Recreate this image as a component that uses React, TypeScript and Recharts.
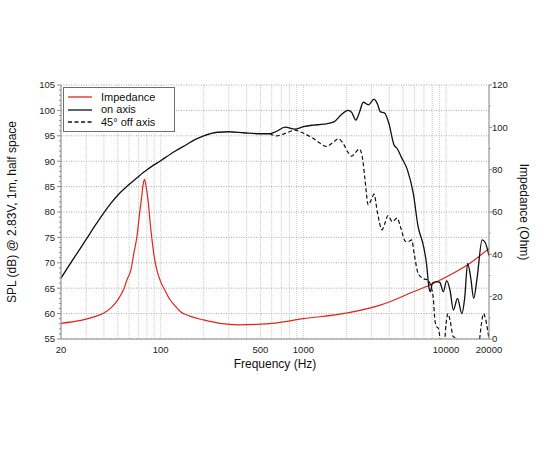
import { CartesianGrid, Label, Legend, Line, LineChart, XAxis, YAxis } from "recharts";

type Pt = { f: number; v: number };

const FONT = '"Liberation Sans", Arial, Helvetica, sans-serif';
const AXIS = "#8c8c8c";
const RED = "#e3241b";
const BLACK = "#111111";

// frequency (Hz) -> impedance (Ohm), right axis
const impedance: Pt[] = [
  [20, 7.4], [25, 8.3], [30, 9.4], [35, 10.7], [40, 12.3], [45, 14.8], [50, 18.5], [55, 23.5],
  [58, 28], [62, 33], [65, 41], [68, 48], [71, 59], [73.5, 67], [75.5, 73.5], [77, 75.4],
  [79, 72], [82, 64], [84, 56], [86.5, 48], [90, 39], [94, 32.5], [100, 27], [107, 23],
  [115, 19], [125, 16], [137, 13], [160, 10.8], [200, 9], [260, 7.4], [350, 6.7], [500, 7],
  [600, 7.4], [1000, 9.6], [2000, 12.2], [3500, 16.1], [5900, 22.3], [7700, 25.5],
  [10100, 29.4], [14700, 35.8], [20000, 42.8],
].map(([f, v]) => ({ f, v }));

// frequency (Hz) -> SPL (dB), on axis
const onAxis: Pt[] = [
  [20, 67], [25, 71.2], [30, 74.6], [35, 77.5], [40, 79.9], [45, 81.8], [50, 83.3], [60, 85.4],
  [70, 87], [80, 88.3], [100, 90.1], [125, 91.9], [150, 93.2], [175, 94.3], [200, 95], [250, 95.7],
  [300, 95.8], [380, 95.6], [500, 95.4], [580, 95.4], [640, 95.8], [745, 96.7], [870, 96.3],
  [1000, 96.8], [1170, 97.1], [1400, 97.3], [1650, 97.8], [1850, 99.2], [2060, 100],
  [2180, 99.6], [2330, 98.1], [2470, 99.6], [2630, 101.6], [2850, 101.1], [3130, 102.2],
  [3300, 101.3], [3470, 99.7], [3700, 99.5], [3970, 97.5], [4320, 93.2], [4540, 92.5],
  [4900, 90.6], [5360, 88.3], [5890, 83.7], [6370, 77.1], [6920, 73.5], [7290, 69.9],
  [7600, 65], [7750, 64.3], [8030, 66], [8590, 66.3], [9060, 66.1], [9560, 64.3],
  [10100, 66.5], [10660, 64.6], [11260, 60.7], [12030, 63], [12900, 60], [13500, 63],
  [14170, 69.9], [14900, 67], [15620, 63], [16500, 67], [17900, 74.5], [18800, 74],
  [20000, 71.4],
].map(([f, v]) => ({ f, v }));

// frequency (Hz) -> SPL (dB), 45 degrees off axis
const offAxis: Pt[] = [
  [580, 95.4], [650, 95.0], [700, 95.2], [780, 95.7], [870, 96.1], [1000, 95.5], [1170, 94.5],
  [1300, 93.6], [1450, 92.9], [1600, 93.6], [1760, 94.4], [1900, 93.5], [2050, 91.8],
  [2180, 91.0], [2300, 91.6], [2470, 92.4], [2600, 90.5], [2700, 86.5], [2850, 81.4],
  [3000, 82.5], [3130, 83.5], [3300, 80], [3560, 76.5], [3750, 78], [3910, 79.3], [4200, 78.1],
  [4540, 78.8], [4800, 77], [5200, 74.2], [5450, 74.2], [5740, 74.5], [6000, 71.5],
  [6370, 67.9], [6920, 66.9], [7480, 66.6], [7800, 65.5], [8120, 63.3], [8370, 58.5],
  [8600, 57.4], [8830, 57.1], [9100, 55], [9400, 53.5], [9700, 53.8], [10000, 58],
  [10340, 60], [10700, 58.5], [11200, 55.5], [11600, 55.2], [12000, 53], [13000, 52],
  [16000, 52], [17000, 54], [17700, 58], [18300, 60], [18900, 59], [19500, 57], [20000, 55],
].map(([f, v]) => ({ f, v }));

const SERIES_ORDER = ["Impedance", "on axis", "45° off axis"];
const FREQ_TICKS = [20, 100, 500, 1000, 10000, 20000];
const FREQ_GRID = [
  20, 30, 40, 50, 60, 70, 80, 90, 100, 200, 300, 400, 500, 600, 700, 800, 900, 1000,
  2000, 3000, 4000, 5000, 6000, 7000, 8000, 9000, 10000, 20000,
];
const SPL_MAJOR = [55, 60, 65, 70, 75, 80, 85, 90, 95, 100, 105];
const SPL_TICKS = Array.from({ length: 51 }, (_, i) => 55 + i);
const IMP_TICKS = [0, 10, 20, 30, 40, 50, 60, 70, 80, 90, 100, 110, 120];

function SplTick({ x, y, payload }: any) {
  const major = payload.value % 5 === 0;
  return (
    <g>
      <line x1={x - (major ? 4 : 2)} x2={x} y1={y} y2={y} stroke={AXIS} />
      {major && (
        <text x={x - 6} y={y} dy="0.35em" textAnchor="end" fontSize={9.5} fill="#222" fontFamily={FONT}>
          {payload.value}
        </text>
      )}
    </g>
  );
}

function ImpTick({ x, y, payload }: any) {
  const major = payload.value % 20 === 0;
  return (
    <g>
      <line x1={x} x2={x + (major ? 3 : 1.5)} y1={y} y2={y} stroke={AXIS} />
      {major && (
        <text x={x + 3} y={y} dy="0.35em" textAnchor="start" fontSize={9.5} fill="#222" fontFamily={FONT}>
          {payload.value}
        </text>
      )}
    </g>
  );
}

function LegendBox({ payload }: any) {
  const items = [...(payload ?? [])].sort(
    (a: any, b: any) => SERIES_ORDER.indexOf(a.value) - SERIES_ORDER.indexOf(b.value),
  );
  return (
    <div
      style={{
        border: "1px solid #6e6e6e",
        background: "#fff",
        padding: "3px 0 3px 4px",
        fontFamily: FONT,
        fontSize: 11,
        lineHeight: "12.4px",
        color: "#111",
        width: 106,
      }}
    >
      {items.map((entry: any) => (
        <div key={entry.value} style={{ display: "flex", alignItems: "center" }}>
          <svg width={29} height={10} style={{ marginRight: 4 }}>
            <line
              x1={0}
              x2={24}
              y1={5}
              y2={5}
              stroke={entry.color}
              strokeWidth={1.3}
              strokeDasharray={entry.payload?.strokeDasharray}
            />
          </svg>
          <span>{entry.value}</span>
        </div>
      ))}
    </div>
  );
}

export default function App() {
  return (
    <div style={{ position: "absolute", left: 0, top: 0, width: 550, height: 450, background: "#fff" }}>
      <LineChart width={550} height={450} margin={{ top: 85, right: 0, bottom: 81, left: 0 }}>
        <CartesianGrid
          xAxisId="gridX"
          yAxisId="gridY"
          horizontal={false}
          stroke="#cccccc"
          strokeDasharray="1 1"
        />
        <CartesianGrid
          xAxisId="gridX"
          yAxisId="gridY"
          vertical={false}
          stroke="#a8a8a8"
          strokeDasharray="1 1.5"
        />
        <XAxis
          xAxisId="freq"
          dataKey="f"
          type="number"
          scale="log"
          domain={[20, 20000]}
          allowDataOverflow
          ticks={FREQ_TICKS}
          interval={0}
          tickLine={false}
          tickSize={0}
          tickMargin={7}
          height={30}
          axisLine={{ stroke: AXIS }}
          tick={{ fontSize: 9.5, fill: "#222", fontFamily: FONT }}
        >
          <Label
            value="Frequency (Hz)"
            position="bottom"
            offset={-10}
            style={{ fontSize: 12, fill: "#111", fontFamily: FONT }}
          />
        </XAxis>
        <XAxis
          xAxisId="gridX"
          dataKey="f"
          type="number"
          scale="log"
          domain={[20, 20000]}
          allowDataOverflow
          ticks={FREQ_GRID}
          interval={0}
          height={0}
          hide
        />
        <XAxis
          xAxisId="top"
          orientation="top"
          dataKey="f"
          type="number"
          scale="log"
          domain={[20, 20000]}
          allowDataOverflow
          height={0}
          tick={false}
          tickLine={false}
          axisLine={{ stroke: AXIS }}
        />
        <YAxis
          yAxisId="spl"
          domain={[55, 105]}
          allowDataOverflow
          ticks={SPL_TICKS}
          interval={0}
          width={61}
          tickSize={0}
          tickMargin={0}
          tickLine={false}
          axisLine={{ stroke: AXIS }}
          tick={<SplTick />}
        >
          <Label
            value="SPL (dB) @ 2.83V, 1m, half space"
            angle={-90}
            position="insideLeft"
            offset={12}
            style={{ fontSize: 12, fill: "#111", fontFamily: FONT, textAnchor: "middle" }}
          />
        </YAxis>
        <YAxis
          yAxisId="gridY"
          domain={[55, 105]}
          allowDataOverflow
          ticks={SPL_MAJOR}
          interval={0}
          width={0}
          hide
        />
        <YAxis
          yAxisId="imp"
          orientation="right"
          domain={[0, 120]}
          allowDataOverflow
          ticks={IMP_TICKS}
          interval={0}
          width={61}
          tickSize={0}
          tickMargin={0}
          tickLine={false}
          axisLine={{ stroke: AXIS }}
          tick={<ImpTick />}
        >
          <Label
            value="Impedance (Ohm)"
            angle={90}
            position="insideRight"
            offset={26}
            style={{ fontSize: 12, fill: "#111", fontFamily: FONT, textAnchor: "middle" }}
          />
        </YAxis>
        <Legend
          layout="vertical"
          align="center"
          verticalAlign="middle"
          itemSorter={null as any}
          content={<LegendBox />}
          wrapperStyle={{ left: 63, top: 87, width: "auto" }}
        />
        <Line
          name="Impedance"
          data={impedance}
          xAxisId="freq"
          yAxisId="imp"
          dataKey="v"
          type="monotone"
          stroke={RED}
          strokeWidth={1.2}
          dot={false}
          isAnimationActive={false}
        />
        <Line
          name="on axis"
          data={onAxis}
          xAxisId="freq"
          yAxisId="spl"
          dataKey="v"
          type="monotone"
          stroke={BLACK}
          strokeWidth={1.3}
          dot={false}
          isAnimationActive={false}
        />
        <Line
          name="45° off axis"
          data={offAxis}
          xAxisId="freq"
          yAxisId="spl"
          dataKey="v"
          type="monotone"
          stroke={BLACK}
          strokeWidth={1.2}
          strokeDasharray="4 2.5"
          dot={false}
          isAnimationActive={false}
        />
      </LineChart>
    </div>
  );
}
